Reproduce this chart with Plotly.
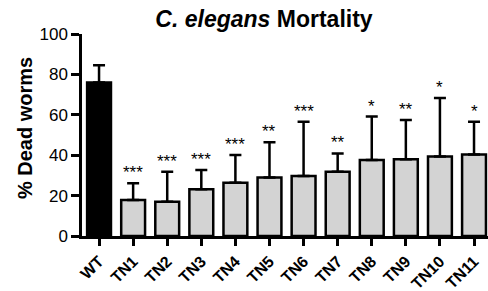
import plotly.graph_objects as go

categories = ["WT", "TN1", "TN2", "TN3", "TN4", "TN5", "TN6", "TN7", "TN8", "TN9", "TN10", "TN11"]
means = [76.0, 17.8, 17.0, 23.1, 26.3, 28.9, 29.7, 31.8, 37.6, 38.0, 39.3, 40.4]
errors_up = [8.5, 8.3, 14.8, 9.6, 13.8, 17.5, 26.9, 9.1, 21.5, 19.4, 29.0, 16.2]
stars = ["", "***", "***", "***", "***", "**", "***", "**", "*", "**", "*", "*"]
bar_colors = ["#000000"] + ["#d3d3d3"] * 11
y_ticks = [0, 20, 40, 60, 80, 100]

FONT = "Liberation Sans, Arial, sans-serif"

fig = go.Figure()
fig.add_trace(go.Bar(
    x=categories,
    y=means,
    width=0.7,
    marker=dict(color=bar_colors, line=dict(color="black", width=2.5)),
    error_y=dict(type="data", symmetric=False, array=errors_up,
                 arrayminus=[0] * len(means), color="black", thickness=2.5, width=6),
    showlegend=False,
))

for c, m, e, s in zip(categories, means, errors_up, stars):
    if s:
        fig.add_annotation(x=c, y=m + e, text=s, showarrow=False,
                           yanchor="bottom", yshift=-1,
                           font=dict(family=FONT, size=17, color="black"))

fig.add_annotation(xref="paper", yref="paper", x=-0.14, y=0.535,
                   text="<b>% Dead worms</b>", textangle=-90, showarrow=False,
                   xanchor="center", yanchor="middle",
                   font=dict(family=FONT, size=20, color="black"))

fig.update_layout(
    width=488, height=291,
    margin=dict(l=82, r=0, t=34, b=55, autoexpand=False),
    paper_bgcolor="white", plot_bgcolor="white",
    title=dict(text="<b><i>C. elegans</i> Mortality</b>", x=0.541, xanchor="center",
               xref="container", y=0.935, yref="container", yanchor="middle",
               automargin=False,
               font=dict(family=FONT, size=23, color="black")),
    bargap=0.3,
)
fig.update_xaxes(
    range=[-0.5, 11.41],
    automargin=False,
    showline=True, linecolor="black", linewidth=2.5,
    ticks="outside", ticklen=7, tickwidth=2.5, tickcolor="black",
    tickangle=-45,
    tickfont=dict(family=FONT, size=16, color="black", weight="bold"),
    showgrid=False, zeroline=False,
)
fig.update_yaxes(
    range=[0, 100],
    tickvals=y_ticks,
    automargin=False,
    showline=True, linecolor="black", linewidth=2.5,
    ticks="outside", ticklen=8, tickwidth=2.5, tickcolor="black",
    tickfont=dict(family=FONT, size=17, color="black"),
    showgrid=False, zeroline=False,
)

fig.write_html("out.html", config={"displayModeBar": False},
               post_script="document.body.style.margin='0';document.body.style.overflow='hidden';")
